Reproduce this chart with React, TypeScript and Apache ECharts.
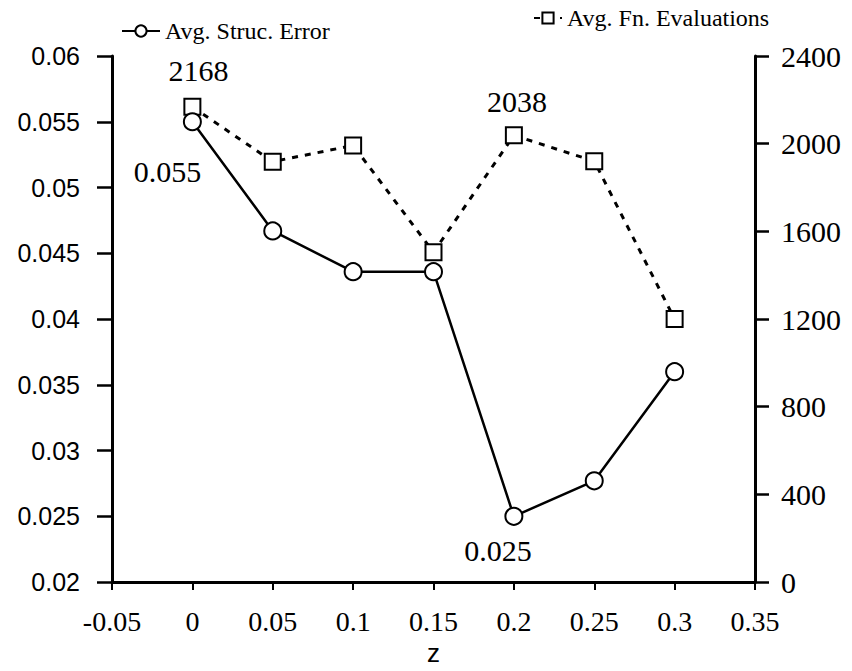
import React, { useEffect, useRef } from "react";
import * as echarts from "echarts";

const zValues = [0, 0.05, 0.1, 0.15, 0.2, 0.25, 0.3];
const structError = [0.055, 0.0467, 0.0436, 0.0436, 0.025, 0.0277, 0.036];
const fnEvals = [2168, 1918, 1992, 1505, 2038, 1920, 1200];
const seriesNames = ["Avg. Struc. Error", "Avg. Fn. Evaluations"];
const xAxisName = "z";

// labelled points: index -> label offset
const errorLabels: Record<number, number[]> = { 0: [-25, 50], 4: [-16, 34] };
const evalLabels: Record<number, number[]> = { 0: [6, -36], 4: [3, -34] };

const SERIF = "Liberation Serif";
const SANS = "Liberation Sans";

export default function App() {
  const ref = useRef<HTMLDivElement>(null);
  useEffect(() => {
    if (!ref.current) return;
    const chart = echarts.init(ref.current, null, { renderer: "svg" });
    const mk = (vals: number[], labels: Record<number, number[]>) =>
      vals.map((v, i) => {
        const item: any = { value: [zValues[i], v] };
        if (labels[i]) {
          item.label = {
            show: true,
            position: "inside",
            offset: labels[i],
            formatter: String(v),
            fontFamily: SERIF,
            fontSize: 30,
            color: "#000",
          };
        }
        return item;
      });
    chart.setOption({
      animation: false,
      backgroundColor: "#fff",
      grid: { left: 112, top: 56, right: 97, bottom: 81, containLabel: false },
      legend: [
        {
          data: [seriesNames[0]],
          left: 116,
          top: 14,
          itemWidth: 38,
          itemHeight: 14,
          itemGap: 4,
          textStyle: { fontFamily: SERIF, fontSize: 24, color: "#000" },
        },
        {
          data: [seriesNames[1]],
          left: 528,
          top: 1,
          itemWidth: 28,
          itemHeight: 14,
          textStyle: { fontFamily: SERIF, fontSize: 24, color: "#000" },
        },
      ],
      xAxis: {
        type: "value",
        min: -0.05,
        max: 0.35,
        interval: 0.05,
        name: xAxisName,
        nameLocation: "middle",
        nameGap: 52,
        nameTextStyle: { fontFamily: SANS, fontSize: 26, color: "#000" },
        axisLine: { onZero: false, lineStyle: { color: "#000", width: 3 } },
        axisTick: { show: true, length: 8, lineStyle: { color: "#000", width: 2 } },
        axisLabel: {
          fontFamily: SERIF,
          fontSize: 28,
          color: "#000",
          margin: 25,
          formatter: (v: number) => String(+v.toFixed(2)),
        },
        splitLine: { show: false },
      },
      yAxis: [
        {
          type: "value",
          position: "left",
          min: 0.02,
          max: 0.06,
          interval: 0.005,
          axisLine: { show: true, onZero: false, lineStyle: { color: "#000", width: 3 } },
          axisTick: { show: true, length: 15, lineStyle: { color: "#000", width: 2.5 } },
          axisLabel: {
            fontFamily: SANS,
            fontSize: 25,
            color: "#000",
            margin: 32,
            formatter: (v: number) => String(+v.toFixed(3)),
          },
          splitLine: { show: false },
        },
        {
          type: "value",
          position: "right",
          min: 0,
          max: 2400,
          interval: 400,
          axisLine: { show: true, onZero: false, lineStyle: { color: "#000", width: 3 } },
          axisTick: { show: true, length: 14, lineStyle: { color: "#000", width: 2.5 } },
          axisLabel: {
            fontFamily: SERIF,
            fontSize: 30,
            color: "#000",
            margin: 26,
            formatter: (v: number) => String(v),
          },
          splitLine: { show: false },
        },
      ],
      series: [
        {
          name: seriesNames[0],
          type: "line",
          yAxisIndex: 0,
          data: mk(structError, errorLabels),
          symbol: "emptyCircle",
          symbolSize: 17,
          lineStyle: { color: "#000", width: 2.5 },
          itemStyle: { color: "#000", borderColor: "#000", borderWidth: 2.5 },
          z: 3,
        },
        {
          name: seriesNames[1],
          type: "line",
          yAxisIndex: 1,
          data: mk(fnEvals, evalLabels),
          symbol: "emptyRect",
          symbolSize: 16,
          lineStyle: { color: "#000", width: 3, type: [6, 7] },
          itemStyle: { color: "#000", borderColor: "#000", borderWidth: 2.5 },
          z: 2,
        },
      ],
    });
    return () => chart.dispose();
  }, []);
  return (
    <div
      ref={ref}
      style={{ position: "absolute", left: 0, top: 0, width: 852, height: 671, background: "#fff" }}
    />
  );
}
